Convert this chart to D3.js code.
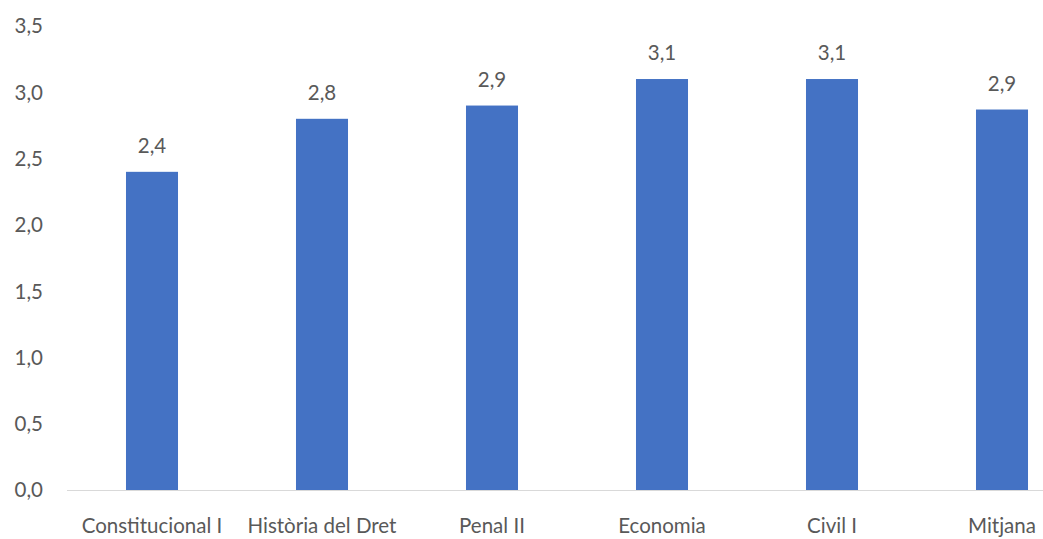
<!DOCTYPE html>
<html><head><meta charset="utf-8">
<script src="https://cdn.jsdelivr.net/npm/d3@7"></script>
<style>body{margin:0;background:#fff}svg{display:block}text{font-family:Lato,"Open Sans",sans-serif;fill:#595959}</style>
</head><body><svg id="c" width="1043" height="539"></svg>
<script>
const categories = ["Constitucional I","Història del Dret","Penal II","Economia","Civil I","Mitjana"];
const values = [2.4, 2.8, 2.9, 3.1, 3.1, 2.87];
const yTicks = [0,0.5,1,1.5,2,2.5,3,3.5];

const svg = d3.select("#c");
const fmt = v => d3.format(".1f")(v).replace(".", ",");
const x = d3.scaleBand().domain(categories).range([67,1087]).paddingInner(0.694).paddingOuter(0.347);
const y = d3.scaleLinear().domain([0,3.5]).range([490,26]);

// y tick labels
svg.append("g").selectAll("text").data(yTicks).join("text")
  .attr("x",43).attr("y",d=>y(d)).attr("dy","0.36em").attr("text-anchor","end")
  .style("font-size","20.5px").text(fmt);

// baseline
svg.append("line").attr("x1",67).attr("x2",1043).attr("y1",y(0)+0.5).attr("y2",y(0)+0.5)
  .attr("stroke","#D9D9D9").attr("stroke-width",1);

// bars
svg.append("g").selectAll("rect").data(values).join("rect")
  .attr("x",(d,i)=>x(categories[i])).attr("width",x.bandwidth())
  .attr("y",d=>y(d)).attr("height",d=>y(0)-y(d)).attr("fill","#4472C4");

// value labels
svg.append("g").selectAll("text").data(values).join("text")
  .attr("x",(d,i)=>x(categories[i])+x.bandwidth()/2).attr("y",d=>y(d)-19)
  .attr("text-anchor","middle").style("font-size","20.5px").text(fmt);

// category labels
svg.append("g").selectAll("text").data(categories).join("text")
  .attr("x",d=>x(d)+x.bandwidth()/2).attr("y",533)
  .attr("text-anchor","middle").style("font-size","20.5px").text(d=>d);
</script></body></html>
